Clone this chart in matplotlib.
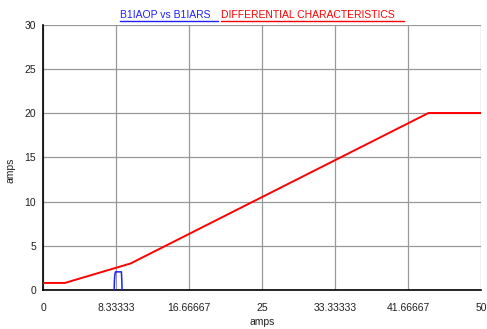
import matplotlib
matplotlib.use('agg')
import matplotlib.pyplot as plt
from matplotlib.lines import Line2D

plt.rcParams['font.family'] = ['Liberation Sans', 'DejaVu Sans']

# differential characteristic (red)
diff_x = [0, 2.5, 10, 44, 50]
diff_y = [0.8, 0.8, 3.0, 20, 20]

# operate trace B1IAOP vs B1IARS (blue)
op_x = [8.12, 8.15, 8.2, 8.27, 8.95, 9.0, 9.03]
op_y = [0, 1.0, 1.7, 2.05, 2.05, 1.0, 0]

x_ticks = [0, 8.33333, 16.66667, 25, 33.33333, 41.66667, 50]
x_labels = ['0', '8.33333', '16.66667', '25', '33.33333', '41.66667', '50']
y_ticks = [0, 5, 10, 15, 20, 25, 30]

fig = plt.figure(figsize=(4.87, 3.29), dpi=100)
ax = fig.add_axes([0.0883, 0.1185, 0.8994, 0.807])

ax.plot(diff_x, diff_y, color='#ff0000', lw=1.4, zorder=3)
ax.plot(op_x, op_y, color='#2020ff', lw=1.1, zorder=3)

ax.set_xlim(0, 50)
ax.set_ylim(0, 30)
ax.set_xticks(x_ticks)
ax.set_xticklabels(x_labels)
ax.set_yticks(y_ticks)
ax.tick_params(length=0, labelsize=7.5, colors='#202020')
ax.tick_params(axis='x', pad=9)
ax.tick_params(axis='y', pad=5)
ax.grid(True, color='#999999', lw=0.9)
ax.set_axisbelow(True)

for s in ['top', 'right']:
    ax.spines[s].set_visible(False)
for s in ['left', 'bottom']:
    ax.spines[s].set_color('black')
    ax.spines[s].set_linewidth(1.2)

ax.set_xlabel('amps', fontsize=7.5, color='#202020')
ax.set_ylabel('amps', fontsize=7.5, color='#202020')
ax.xaxis.set_label_coords(0.5, -0.10)
ax.yaxis.set_label_coords(-0.062, 0.45)

# two-colour underlined title
ty = 1 - 18.5 / 329
t1 = fig.text(120 / 487, ty, 'B1IAOP vs B1IARS', color='#2020ff',
              fontsize=7.5, va='baseline', ha='left')
t2 = fig.text(221 / 487, ty, 'DIFFERENTIAL CHARACTERISTICS', color='#ff0000',
              fontsize=7.5, va='baseline', ha='left')
fig.canvas.draw()
r = fig.canvas.get_renderer()
for t, c, ext in [(t1, '#2020ff', 7), (t2, '#ff0000', 9)]:
    bb = t.get_window_extent(r)
    yl = (329 - 20.5) / 329
    fig.add_artist(Line2D([bb.x0 / 487, (bb.x1 + ext) / 487], [yl, yl],
                          color=c, lw=1.0, transform=fig.transFigure))

fig.savefig('out.png', dpi=100)
